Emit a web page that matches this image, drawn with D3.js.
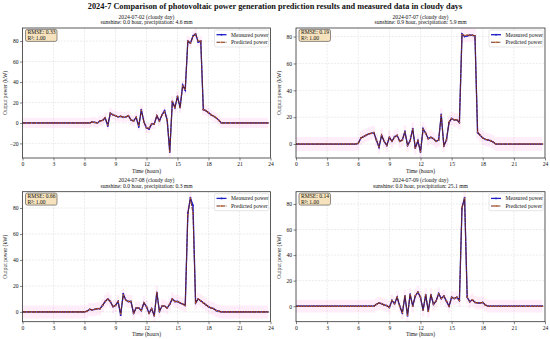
<!DOCTYPE html>
<html><head><meta charset="utf-8">
<script src="https://cdn.jsdelivr.net/npm/d3@7"></script>
<style>body{margin:0;background:#fff} svg{display:block} text{font-family:"Liberation Serif","DejaVu Serif",serif;fill:#111}</style>
</head><body><svg id="c" width="550" height="339"></svg>
<script>
const title = "2024-7 Comparison of photovoltaic power generation prediction results and measured data in cloudy days";
const hours = d3.range(96).map(i => i * 0.25);
const xTicks = [0, 3, 6, 9, 12, 15, 18, 21, 24];
const dayLabels = ["2024-07-02 (cloudy day)", "2024-07-07 (cloudy day)", "2024-07-08 (cloudy day)", "2024-07-09 (cloudy day)"];
const weatherLabels = ["sunshine: 0.0 hour, precipitation: 4.6 mm", "sunshine: 0.9 hour, precipitation: 5.9 mm", "sunshine: 0.0 hour, precipitation: 0.3 mm", "sunshine: 0.0 hour, precipitation: 25.1 mm"];
const rmseLabels = ["0.33", "0.19", "0.66", "0.14"];
const r2Labels = ["1.00", "1.00", "1.00", "1.00"];

const measured1 = [0,0,0,0,0,0,0,0,0,0,0,0,0,0,0,0,0,0,0,0,0,0,0,0,0,0,0,
 1,0.5,0,2,2.5,5,-3,9.5,8,7,6,6.5,5.5,6,7,3,2,5.5,-4,13,1,-5,-6,-1,-1,7,2,8,12,3,-28.5,21,15,26,15,37,32,80,78,85,87,79,80,13,12,10,8,6.5,5,2.5,0,
 0,0,0,0,0,0,0,0,0,0,0,0,0,0,0,0,0,0];
const predicted1 = [0,0,0,0,0,0,0,0,0,0,0,0,0,0,0,0,0,0,0,0,0,0,0,0,0,0,0,
 1,0.5,0,2,2.5,5,-2,9.5,8,7,6,6.5,5.5,6,7,3,2,5.5,-2.5,12.5,1,-5,-5,-1,-1,7,2,8,11,3,-28,21,15,26,15,36,33,80,78,84.5,87,80,80,13,12,10,8,6.5,5,2.5,0,
 0,0,0,0,0,0,0,0,0,0,0,0,0,0,0,0,0,0];

const measured2 = [0,0,0,0,0,0,0,0,0,0,0,0,0,0,0,0,0,0,0,0,0,0,0,0,
 0.5,4.5,5.5,6.5,7.5,8,8.5,3,-2.5,6.5,2,-1,5,2,5.5,6.5,2,3,9.5,-1,2.5,11.5,-3,2.5,-6,11.5,8,4,5,4,2,3,22,-1.5,3,16,19,18,18,16,82,80,80.5,81,81,80.5,8.5,6.5,4.5,3.5,3,2.5,1.5,0,
 0,0,0,0,0,0,0,0,0,0,0,0,0,0,0,0,0,0];
const predicted2 = [0,0,0,0,0,0,0,0,0,0,0,0,0,0,0,0,0,0,0,0,0,0,0,0,
 0.5,4.5,5.5,6.5,7.5,8,8.5,3,-2,6.5,2,-1,5,2,5,6.5,2,3,9,-1,2.5,11,-3,2.5,-5.7,11,8,4,5,4,2,3,21.5,-1.2,3,16.5,19,18,18,16,81.5,80.8,81.2,81,81,80.5,9,6.5,4.5,3.5,3,2.5,1.5,0,
 0,0,0,0,0,0,0,0,0,0,0,0,0,0,0,0,0,0];

const measured3 = [0,0,0,0,0,0,0,0,0,0,0,0,0,0,0,0,0,0,0,0,0,0,0,0,0,
 0.5,2,1.5,2,2.5,2.5,5,8,10,8,4,5,8,-2.5,14,9,8,8,-1,3,3,1,7,4,-1,2.5,-3,15,0.5,4.5,4.5,3,6,10,8,8,7,6,5,76,88,82,7,10,8.5,7,5.5,4,3,2.5,1,0.5,0,
 0,0,0,0,0,0,0,0,0,0,0,0,0,0,0,0,0,0];
const predicted3 = [0,0,0,0,0,0,0,0,0,0,0,0,0,0,0,0,0,0,0,0,0,0,0,0,0,
 0.5,2,1.5,2,2.5,2.5,5,8,10,8,4,5,8,-1.5,13,9,8,8,-1,3,3,1,7,4,-1,2.5,-3,15,0.5,4.5,4.5,3,6,10,8,8,7,6,5,75,87.5,76,7,10,8.5,7,5.5,4,3,2.5,1,0.5,0,
 0,0,0,0,0,0,0,0,0,0,0,0,0,0,0,0,0,0];

const measured4 = [0,0,0,0,0,0,0,0,0,0,0,0,0,0,0,0,0,0,0,0,0,0,0,0,0,0,0,0,0,0,0,
 1.5,2.5,2,1,0.5,-1,4.5,2,7,0,-5.5,8,-7.5,9.5,0,8,11,7,-3,9,-4,9,1.5,4,10,6,8,4,0,7,6,7,4.5,77,85,7,3.5,5,3,2.5,2.5,3,1,0,
 0,0,0,0,0,0,0,0,0,0,0,0,0,0,0,0,0,0,0,0,0];
const predicted4 = [0,0,0,0,0,0,0,0,0,0,0,0,0,0,0,0,0,0,0,0,0,0,0,0,0,0,0,0,0,0,0,
 1.5,2.5,2,1,0.5,-1,4.5,2,7,0,-5,8,-7,9,0,8.3,11,7,-3,9,-4,9,1.5,4,9.7,6,8,4,0,7,6,7,4.5,77.5,84.5,7,3.5,5,3,2.5,2.5,3,1,0,
 0,0,0,0,0,0,0,0,0,0,0,0,0,0,0,0,0,0,0,0,0];

const measuredAll = [measured1, measured2, measured3, measured4];
const predictedAll = [predicted1, predicted2, predicted3, predicted4];

const svg = d3.select('#c');
svg.append('rect').attr('width', 550).attr('height', 339).attr('fill', '#fff');
svg.append('text').attr('x', 275).attr('y', 9.2).attr('text-anchor', 'middle')
  .attr('font-weight', 'bold').attr('font-size', 8.3).text(title);

const boxes = [
  {l: 22.5, r: 270.5, t: 28, b: 158},
  {l: 296, r: 545, t: 28, b: 158},
  {l: 22.5, r: 270.5, t: 191.7, b: 321.7},
  {l: 296, r: 545, t: 191.7, b: 321.7}
];
const FS = 5.6;
const BLUE = '#1c1cc8', RED = '#6e2412', ORANGE = '#d2691e';

boxes.forEach((bx, k) => {
  const meas = measuredAll[k], pred = predictedAll[k];
  const x = d3.scaleLinear().domain([0, 24]).range([bx.l, bx.r]);
  const all = meas.concat(pred);
  const mn = d3.min(all), mx = d3.max(all), pad = (mx - mn) * 0.05;
  const y = d3.scaleLinear().domain([mn - pad, mx + pad]).range([bx.b, bx.t]);
  const yTicks = d3.range(-40, 101, 20).filter(v => v >= mn - pad && v <= mx + pad);
  const g = svg.append('g');
  const cid = 'clip' + k;
  g.append('clipPath').attr('id', cid).append('rect')
    .attr('x', bx.l).attr('y', bx.t).attr('width', bx.r - bx.l).attr('height', bx.b - bx.t);
  const inner = g.append('g').attr('clip-path', `url(#${cid})`);

  // grid
  inner.selectAll('.gx').data(xTicks).join('line')
    .attr('x1', d => x(d)).attr('x2', d => x(d)).attr('y1', bx.t).attr('y2', bx.b)
    .attr('stroke', '#d8d8d8').attr('stroke-width', 0.5).attr('stroke-dasharray', '2,1.2');
  inner.selectAll('.gy').data(yTicks).join('line')
    .attr('y1', d => y(d)).attr('y2', d => y(d)).attr('x1', bx.l).attr('x2', bx.r)
    .attr('stroke', '#d8d8d8').attr('stroke-width', 0.5).attr('stroke-dasharray', '2,1.2');

  // band
  const area = d3.area().curve(d3.curveStep)
    .x((d, i) => x(hours[i])).y0(d => y(d - 5)).y1(d => y(d + 5));
  inner.append('path').datum(pred).attr('d', area).attr('fill', '#ff3cc8').attr('fill-opacity', 0.09);

  // lines
  const line = d3.line().x((d, i) => x(hours[i])).y(d => y(d));
  inner.append('path').datum(meas).attr('d', line).attr('fill', 'none')
    .attr('stroke', BLUE).attr('stroke-width', 1.3);
  inner.selectAll('.mm').data(meas).join('circle')
    .attr('cx', (d, i) => x(hours[i])).attr('cy', d => y(d)).attr('r', 0.9).attr('fill', BLUE);
  inner.append('path').datum(pred).attr('d', line).attr('fill', 'none')
    .attr('stroke', RED).attr('stroke-width', 1.1).attr('stroke-dasharray', '4,0.8').attr('stroke-opacity', 0.9);
  inner.selectAll('.pm').data(pred).join('circle')
    .attr('cx', (d, i) => x(hours[i])).attr('cy', d => y(d)).attr('r', 0.75).attr('fill', ORANGE);

  // axes
  const xa = g.append('g').attr('transform', `translate(0,${bx.b})`)
    .call(d3.axisBottom(x).tickValues(xTicks).tickSize(2.5).tickPadding(1.5).tickFormat(d3.format('d')));
  const ya = g.append('g').attr('transform', `translate(${bx.l},0)`)
    .call(d3.axisLeft(y).tickValues(yTicks).tickSize(2.5).tickPadding(1.5).tickFormat(d3.format('d')));
  [xa, ya].forEach(a => {
    a.select('.domain').remove();
    a.selectAll('line').attr('stroke', '#333').attr('stroke-width', 0.6);
    a.selectAll('text').attr('font-size', FS).attr('font-family', '"Liberation Serif",serif').attr('fill', '#111');
  });
  g.append('rect').attr('x', bx.l).attr('y', bx.t).attr('width', bx.r - bx.l).attr('height', bx.b - bx.t)
    .attr('fill', 'none').attr('stroke', '#333').attr('stroke-width', 0.8);

  // titles
  const cx = (bx.l + bx.r) / 2;
  g.append('text').attr('x', cx).attr('y', bx.t - 9.4).attr('text-anchor', 'middle').attr('font-size', FS).text(dayLabels[k]);
  g.append('text').attr('x', cx).attr('y', bx.t - 3.6).attr('text-anchor', 'middle').attr('font-size', FS).text(weatherLabels[k]);
  g.append('text').attr('x', cx).attr('y', bx.b + 14.6).attr('text-anchor', 'middle').attr('font-size', FS).text('Time (hours)');
  g.append('text').attr('transform', `translate(${bx.l - 15.5},${(bx.t + bx.b) / 2}) rotate(-90)`)
    .attr('text-anchor', 'middle').attr('font-size', FS).text('Output power (kW)');

  // RMSE box
  g.append('rect').attr('x', bx.l + 3).attr('y', bx.t + 1.4).attr('width', 31.5).attr('height', 12)
    .attr('rx', 1.8).attr('fill', '#f5deb3').attr('fill-opacity', 0.85).attr('stroke', '#444').attr('stroke-width', 0.6);
  g.append('text').attr('x', bx.l + 5).attr('y', bx.t + 6.3).attr('font-size', FS).text('RMSE: ' + rmseLabels[k]);
  g.append('text').attr('x', bx.l + 5).attr('y', bx.t + 11.8).attr('font-size', FS).text('R²: ' + r2Labels[k]);

  // legend
  const lx = bx.r - 56, ly = bx.t + 2;
  g.append('rect').attr('x', lx).attr('y', ly).attr('width', 54).attr('height', 17)
    .attr('rx', 1.5).attr('fill', '#fff').attr('fill-opacity', 0.9).attr('stroke', '#ccc').attr('stroke-width', 0.5);
  const items = [
    {label: 'Measured power', color: BLUE, dash: null, mk: BLUE, w: 1.3},
    {label: 'Predicted power', color: RED, dash: '4,0.8', mk: ORANGE, w: 1.1}
  ];
  items.forEach((it, j) => {
    const yy = ly + 4.7 + j * 7.6;
    g.append('line').attr('x1', lx + 2).attr('x2', lx + 12).attr('y1', yy).attr('y2', yy)
      .attr('stroke', it.color).attr('stroke-width', it.w).attr('stroke-dasharray', it.dash);
    g.append('circle').attr('cx', lx + 7).attr('cy', yy).attr('r', 0.9).attr('fill', it.mk);
    g.append('text').attr('x', lx + 16.5).attr('y', yy + 1.9).attr('font-size', FS).text(it.label);
  });
});
</script></body></html>
